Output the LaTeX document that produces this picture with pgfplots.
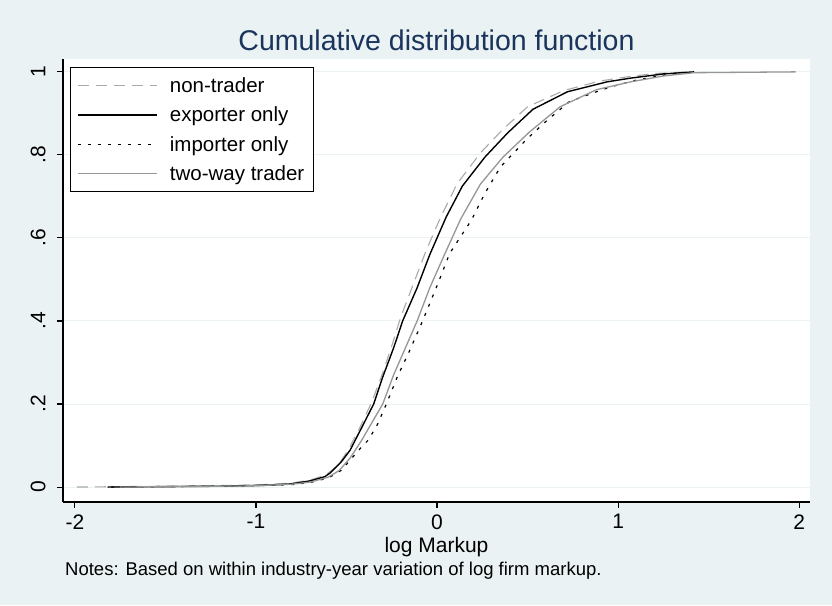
\documentclass[border=0pt]{standalone}
\usepackage{fontspec}
\setmainfont{Liberation Sans}
\usepackage{pgfplots}
\pgfplotsset{compat=1.18}

\definecolor{bgc}{RGB}{234,242,243}
\definecolor{gridc}{RGB}{234,242,243}
\definecolor{titlec}{RGB}{26,52,92}
\definecolor{lgray}{RGB}{170,170,170}
\definecolor{mgray}{RGB}{150,150,150}

\begin{document}
\begin{tikzpicture}[x=1pt,y=1pt]
\fill[bgc] (0,0) rectangle (832,605);
\begin{axis}[
    at={(63pt,103pt)}, anchor=south west,
    scale only axis, width=747pt, height=443pt,
    xmin=-2.066, xmax=2.06, ymin=-0.036, ymax=1.031,
    axis lines*=left,
    axis line style={line width=1.1pt},
    axis background/.style={fill=white},
    tick align=outside,
    major tick length=6pt,
    tick style={black, line width=1.1pt},
    xtick={-2,-1,0,1,2}, xticklabels={-2,-1,0,1,2},
    ytick={0,0.2,0.4,0.6,0.8,1}, yticklabels={0,.2,.4,.6,.8,1},
    yticklabel style={rotate=90, anchor=south},
    xticklabel shift=3pt, yticklabel shift=8pt,
    ticklabel style={font=\fontsize{21}{25}\selectfont},
    ymajorgrids, grid style={gridc, line width=1pt},
    legend image code/.code={\draw[#1] (0pt,0pt) -- (79pt,0pt);},
    legend cell align=left,
    legend style={at={(rel axis cs:0.0094,0.982)}, anchor=north west,
      draw=black, line width=1pt, fill=white,
      font=\fontsize{20.5}{24}\selectfont,
      inner xsep=7pt, inner ysep=8pt, row sep=9pt,
      /tikz/every odd column/.append style={column sep=10pt}},
  ]
  % non-trader
  \addplot[lgray, line width=1.1pt, dash pattern=on 11pt off 7pt] coordinates {
    (-1.99,0) (-1.5,0.002) (-1.0,0.005) (-0.8,0.01) (-0.7,0.017) (-0.62,0.028)
    (-0.55,0.05) (-0.49,0.09) (-0.43,0.14) (-0.36,0.205) (-0.30,0.275)
    (-0.25,0.34) (-0.20,0.41) (-0.13,0.49) (-0.06,0.57) (0.02,0.65)
    (0.11,0.73) (0.24,0.805) (0.36,0.86) (0.50,0.916) (0.70,0.955)
    (0.90,0.978) (1.05,0.988) (1.20,0.996) (1.40,1.0)
  };
  \addlegendentry{non-trader}
  % exporter only
  \addplot[black, line width=1.4pt] coordinates {
    (-1.82,0) (-1.2,0.002) (-0.9,0.005) (-0.8,0.008) (-0.7,0.015) (-0.62,0.025)
    (-0.59,0.034) (-0.53,0.06) (-0.48,0.089) (-0.42,0.14) (-0.35,0.20)
    (-0.30,0.265) (-0.24,0.335) (-0.19,0.40) (-0.11,0.48) (-0.04,0.56)
    (0.05,0.65) (0.14,0.725) (0.265,0.795) (0.39,0.853) (0.53,0.91)
    (0.72,0.952) (0.94,0.976) (1.07,0.985) (1.25,0.995) (1.42,1.0)
  };
  \addlegendentry{exporter only}
  % importer only
  \addplot[black, line width=1.2pt, dash pattern=on 3pt off 7pt] coordinates {
    (-1.80,0) (-1.0,0.003) (-0.8,0.006) (-0.7,0.011) (-0.6,0.022) (-0.53,0.04)
    (-0.47,0.07) (-0.41,0.10) (-0.38,0.113) (-0.33,0.15) (-0.28,0.20)
    (-0.22,0.265) (-0.15,0.33) (-0.08,0.40) (0.0,0.485) (0.07,0.563)
    (0.19,0.643) (0.265,0.708) (0.35,0.771) (0.50,0.84) (0.61,0.884)
    (0.73,0.928) (0.86,0.949) (0.96,0.964) (1.10,0.98) (1.25,0.992) (1.40,1.0)
  };
  \addlegendentry{importer only}
  % two-way trader
  \addplot[mgray, line width=1.3pt] coordinates {
    (-1.75,0) (-1.0,0.003) (-0.8,0.007) (-0.7,0.012) (-0.6,0.024) (-0.54,0.04)
    (-0.48,0.07) (-0.42,0.11) (-0.36,0.155) (-0.30,0.20) (-0.24,0.27)
    (-0.18,0.33) (-0.11,0.40) (-0.04,0.48) (0.035,0.554) (0.13,0.645)
    (0.24,0.73) (0.365,0.795) (0.51,0.855) (0.68,0.916) (0.88,0.957)
    (1.07,0.976) (1.25,0.99) (1.42,0.998) (1.98,1.0)
  };
  \addlegendentry{two-way trader}
\end{axis}
\node[text=titlec, font=\fontsize{28.5}{32}\selectfont] at (436.5,565) {Cumulative distribution function};
\node[font=\fontsize{21}{25}\selectfont] at (436.5,58) {log Markup};
\node[anchor=west, font=\fontsize{18.5}{22}\selectfont, inner sep=0pt] at (65,34) {Notes: Based on within industry-year variation of log firm markup.};
\end{tikzpicture}
\end{document}
